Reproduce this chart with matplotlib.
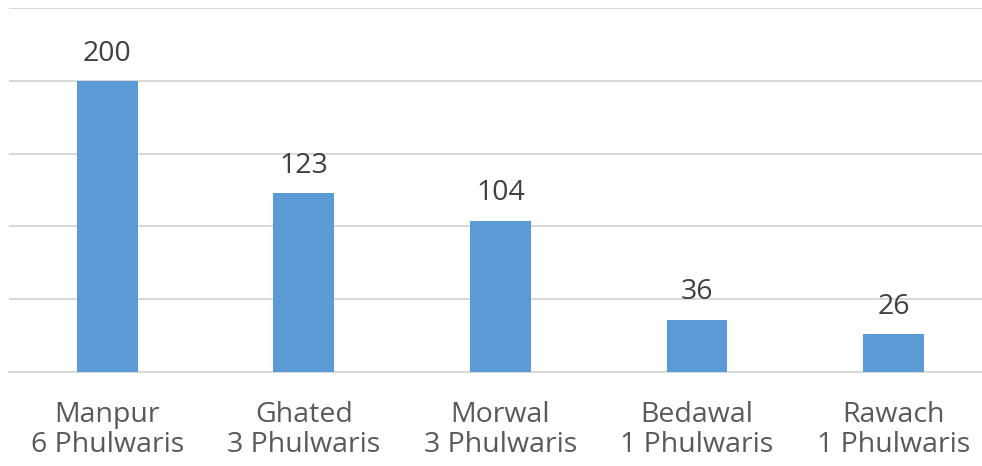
import numpy as np
import matplotlib.pyplot as plt

# data
villages = ["Manpur", "Ghated", "Morwal", "Bedawal", "Rawach"]
phulwaris = [6, 3, 3, 1, 1]
children = [200, 123, 104, 36, 26]

labels = [f"{v}\n{p} Phulwaris" for v, p in zip(villages, phulwaris)]

plt.rcParams['font.family'] = ['Open Sans', 'DejaVu Sans']

fig = plt.figure(figsize=(9.82, 4.66), dpi=100)
# axes placed in pixels: left 9, baseline at y=372, top gridline at y=8
ax = fig.add_axes([9 / 982, 94 / 466, 973 / 982, 364 / 466])

x = np.arange(len(villages))
bars = ax.bar(x, children, width=0.31, color="#5b9bd5", zorder=3)

for xi, val in zip(x, children):
    ax.text(xi, val + 9, str(val), ha="center", va="bottom",
            fontsize=20.5, color="#404040", zorder=4)

ax.set_ylim(0, 250)
ax.set_xlim(-0.5, 4.45)
ax.set_yticks(np.arange(0, 251, 50))
ax.yaxis.grid(True, color="#d9d9d9", linewidth=1.5, zorder=0)
ax.set_yticklabels([])
ax.tick_params(axis="y", length=0)
ax.set_xticks(x)
ax.set_xticklabels(labels, fontsize=20.5, color="#595959", linespacing=1.1)
ax.tick_params(axis="x", length=0, pad=21)
for s in ["top", "right", "left"]:
    ax.spines[s].set_visible(False)
ax.spines["bottom"].set_color("#d9d9d9")
ax.spines["bottom"].set_linewidth(1.5)

fig.savefig("out.png", dpi=100)
